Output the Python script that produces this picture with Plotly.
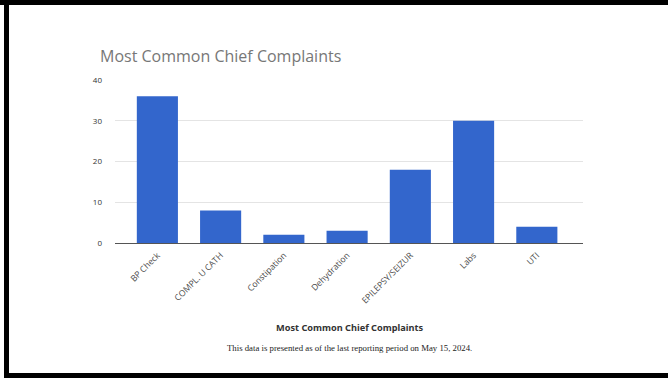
import plotly.graph_objects as go

categories = ["BP Check", "COMPL. U CATH", "Constipation", "Dehydration",
              "EPILEPSY/SEIZUR", "Labs", "UTI"]
counts = [36, 8, 2, 3, 18, 30, 4]
y_ticks = [0, 10, 20, 30, 40]

W, H = 668, 378
x0, x1 = 115, 583
y_bot, y_top = 243, 80

fig = go.Figure(go.Bar(x=categories, y=counts, marker_color="#3366CC",
                       marker_line_width=0, width=0.65))

fig.update_layout(
    width=W, height=H,
    margin=dict(l=0, r=0, t=0, b=0),
    paper_bgcolor="white", plot_bgcolor="white",
    showlegend=False,
    xaxis=dict(domain=[x0 / W, x1 / W], range=[-0.67, 6.73],
               tickangle=-45, tickfont=dict(family="Open Sans", size=8.6, color="#4a4a4a"),
               showgrid=False, showline=True, linecolor="#555555", linewidth=1,
               ticks="", automargin=False, ticklabelstandoff=3),
    yaxis=dict(domain=[(H - y_bot) / H, (H - y_top) / H], range=[0, 40],
               tickvals=y_ticks, tickfont=dict(family="Open Sans", size=8, color="#333333"),
               showgrid=True, gridcolor="#e4e4e4", gridwidth=1,
               zeroline=False, ticks="", automargin=False, ticklabelstandoff=12),
    annotations=[
        dict(text="Most Common Chief Complaints", x=98 / W, y=1 - 56 / H,
             xref="paper", yref="paper", xanchor="left", yanchor="middle",
             showarrow=False, font=dict(family="Open Sans", size=16, color="#777777")),
        dict(text="<b>Most Common Chief Complaints</b>", x=349.5 / W, y=1 - 327 / H,
             xref="paper", yref="paper", xanchor="center", yanchor="middle",
             showarrow=False, font=dict(family="Noto Sans", size=9.2, color="#333333")),
        dict(text="This data is presented as of the last reporting period on May 15, 2024.",
             x=349.5 / W, y=1 - 348 / H,
             xref="paper", yref="paper", xanchor="center", yanchor="middle",
             showarrow=False, font=dict(family="Liberation Serif", size=8.75, color="#222222")),
    ],
    shapes=[
        dict(type="rect", xref="paper", yref="paper", x0=0, x1=1, y0=1 - 5 / H, y1=1,
             fillcolor="black", line_width=0),
        dict(type="rect", xref="paper", yref="paper", x0=4 / W, x1=9 / W, y0=0, y1=1,
             fillcolor="black", line_width=0),
        dict(type="rect", xref="paper", yref="paper", x0=4 / W, x1=1, y0=0, y1=5 / H,
             fillcolor="black", line_width=0),
    ],
)

fig.write_html("out.html")
